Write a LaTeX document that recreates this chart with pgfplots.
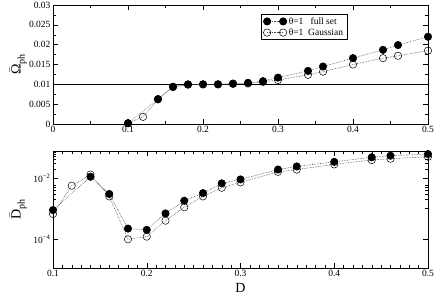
\documentclass[border=0pt]{standalone}
\usepackage{fontspec}
\setmainfont{Liberation Serif}
\usepackage{pgfplots}
\pgfplotsset{compat=1.18}

\pgfplotsset{
  dotline/.style={densely dotted, line width=0.6pt, color=black!70},
  full/.style={dotline, mark=*, mark size=3.7pt, mark options={solid, fill=black, draw=black}},
  gauss/.style={dotline, mark=o, mark size=3.7pt, mark options={solid, draw=black, line width=0.5pt}},
  common/.style={
    scale only axis, width=375pt,
    tick align=inside,
    major tick length=5pt, minor tick length=3pt,
    tick style={black, line width=0.5pt},
    axis line style={line width=0.6pt},
    tick label style={font=\fontsize{9.5}{9.5}\selectfont},
    /pgf/number format/assume math mode=true,
    xticklabel style={yshift=1pt},
    yticklabel style={xshift=1pt},
    ylabel style={at={(axis description cs:-0.093,0.5)}, rotate=0, anchor=center, font=\fontsize{14}{14}\selectfont},
  },
}

\begin{document}
\begin{tikzpicture}
\useasboundingbox (-53pt,-171pt) rectangle (383pt,124pt);

% top panel
\begin{axis}[common,
  at={(0pt,0pt)}, anchor=south west, height=119pt,
  xmin=0, xmax=0.5, ymin=0, ymax=0.03,
  xtick={0,0.1,0.2,0.3,0.4,0.5}, minor x tick num=1,
  ytick={0,0.005,0.01,0.015,0.02,0.025,0.03}, minor y tick num=1,
  scaled x ticks=false, scaled y ticks=false,
  yticklabel style={/pgf/number format/fixed, /pgf/number format/precision=3},
  xticklabel style={/pgf/number format/fixed, /pgf/number format/precision=1},
  ylabel={$\bar{\mbox{Ω}}$\raisebox{-0.6ex}{\fontsize{10}{10}\selectfont ph}},
  legend style={at={(rel axis cs:0.555,0.924)}, anchor=north west, draw=black, line width=0.6pt,
    font=\fontsize{9.5}{10}\selectfont, inner xsep=2pt, inner ysep=1pt, row sep=-1pt,
    cells={anchor=west}},
  legend image code/.code={\draw[#1] plot coordinates {(0pt,0pt) (16pt,0pt)};},
  reverse legend,
]
\addplot[black, line width=0.6pt, forget plot] coordinates {(0,0.01) (0.5,0.01)};
\addplot[gauss] coordinates {
(0.10,0.0002) (0.12,0.0018) (0.14,0.0062) (0.16,0.0093) (0.18,0.0099) (0.20,0.0100)
(0.22,0.0100) (0.24,0.0101) (0.26,0.0102) (0.28,0.0106) (0.30,0.0111) (0.34,0.0124)
(0.36,0.0132) (0.40,0.0150) (0.44,0.0166) (0.46,0.0172) (0.50,0.0185)};
\addlegendentry{θ=1\ \ Gaussian}
\addplot[full] coordinates {
(0.10,0.0002) (0.14,0.0063) (0.16,0.0094) (0.18,0.0100) (0.20,0.0100) (0.22,0.0100)
(0.24,0.0102) (0.26,0.0104) (0.28,0.0108) (0.30,0.0117) (0.34,0.0134) (0.36,0.0145)
(0.40,0.0166) (0.44,0.0187) (0.46,0.0199) (0.50,0.0220)};
\addlegendentry{θ=1\ \ \ full set}
\end{axis}

% bottom panel
\begin{axis}[common,
  at={(0pt,-144pt)}, anchor=south west, height=117pt,
  ymode=log,
  xmin=0.1, xmax=0.5, ymin=1.12e-5, ymax=7.7e-2,
  xtick={0.1,0.2,0.3,0.4,0.5}, minor x tick num=9,
  xticklabel style={/pgf/number format/fixed, /pgf/number format/precision=1},
  ytick={1e-4,1e-2},
  yticklabels={10\textsuperscript{−4}, 10\textsuperscript{−2}},
  minor ytick={1e-3,2e-2,3e-2,4e-2,5e-2,6e-2,7e-2,2e-3,3e-3,4e-3,5e-3,6e-3},
  ylabel={$\bar{\mbox{D}}$\raisebox{-0.6ex}{\fontsize{10}{10}\selectfont ph}},
  xlabel={D},
  xlabel style={at={(axis description cs:0.5,-0.171)}, anchor=center, font=\fontsize{14}{14}\selectfont},
]
\addplot[gauss] coordinates {
(0.10,6.6e-4) (0.12,5.6e-3) (0.14,1.3e-2) (0.16,2.5e-3) (0.18,9.8e-5) (0.20,1.2e-4)
(0.22,4.0e-4) (0.24,1.1e-3) (0.26,2.5e-3) (0.28,4.8e-3) (0.30,7.2e-3) (0.34,1.6e-2)
(0.36,1.9e-2) (0.40,2.8e-2) (0.44,3.9e-2) (0.46,4.3e-2) (0.50,5.0e-2)};
\addplot[full] coordinates {
(0.10,8.9e-4) (0.14,1.1e-2) (0.16,3.0e-3) (0.18,2.2e-4) (0.20,2.0e-4) (0.22,6.9e-4)
(0.24,1.8e-3) (0.26,3.2e-3) (0.28,6.7e-3) (0.30,9.0e-3) (0.34,1.9e-2) (0.36,2.4e-2)
(0.40,3.4e-2) (0.44,4.8e-2) (0.46,5.4e-2) (0.50,6.1e-2)};
\end{axis}
\end{tikzpicture}
\end{document}
